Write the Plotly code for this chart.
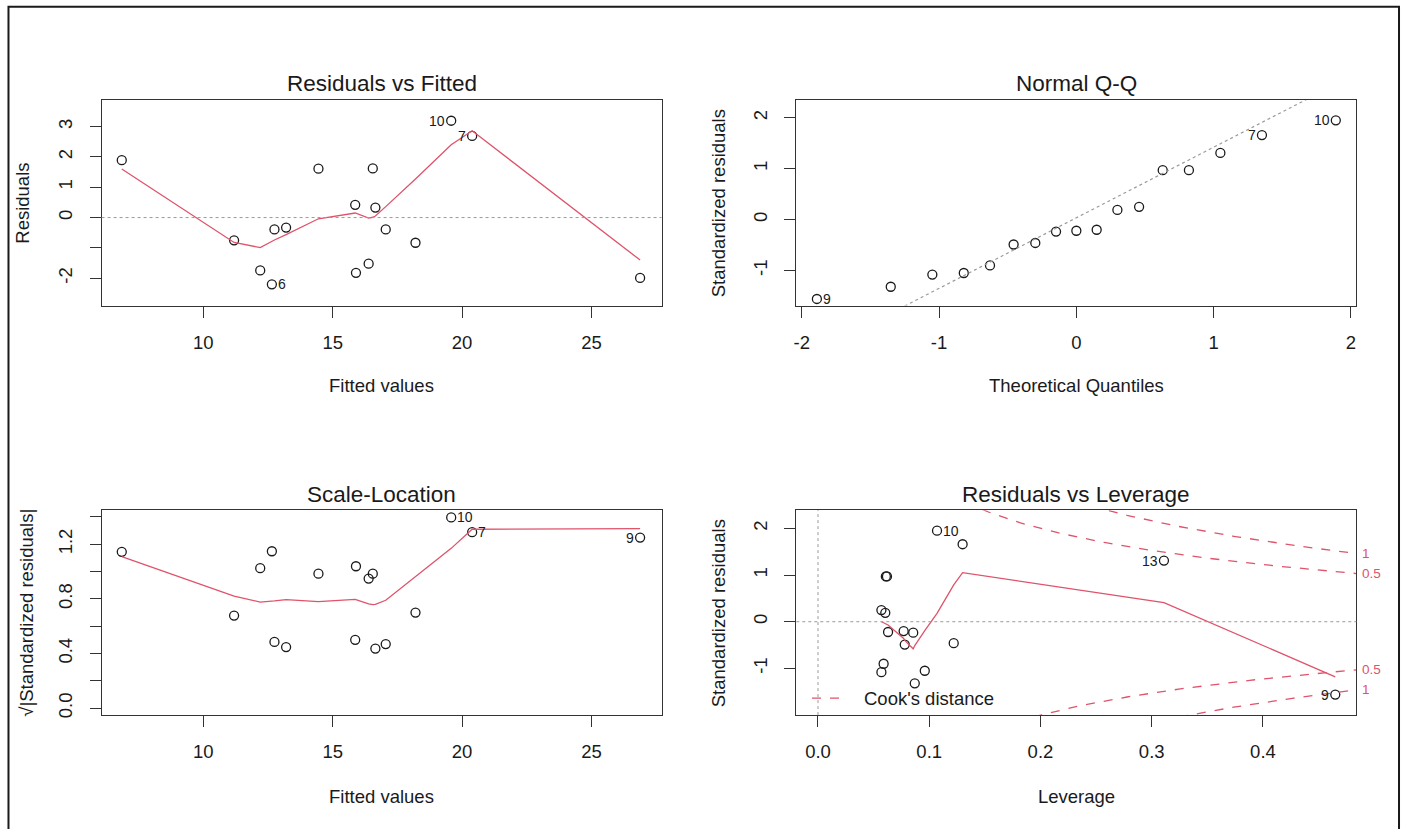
import numpy as np
import plotly.graph_objects as go

# ---------------- data: simple linear model, 17 observations ----------------
obs_id = list(range(1, 18))
fitted = [15.90, 11.19, 16.55, 12.20, 17.05, 12.65, 20.39, 15.87, 26.88,
          19.58, 16.39, 14.45, 6.85, 13.20, 18.20, 16.65, 12.75]
residuals = [-1.82, -0.75, 1.62, -1.74, -0.39, -2.20, 2.69, 0.42, -1.99,
             3.19, -1.52, 1.61, 1.89, -0.33, -0.83, 0.33, -0.39]
std_resid = [-1.08, -0.46, 0.97, -1.05, -0.22, -1.32, 1.66, 0.25, -1.56,
             1.95, -0.90, 0.97, 1.31, -0.20, -0.49, 0.19, -0.235]
leverage = [0.057, 0.122, 0.062, 0.096, 0.063, 0.087, 0.130, 0.057, 0.465,
            0.107, 0.059, 0.061, 0.311, 0.077, 0.078, 0.0605, 0.0856]
theor_quantiles = [-1.890, -1.352, -1.049, -0.820, -0.629, -0.457, -0.299, -0.148, 0.0,
                   0.148, 0.299, 0.457, 0.629, 0.820, 1.049, 1.352, 1.890]

# lowess smoothers (evaluated at the sorted x values)
smooth_fit_x = [6.85, 11.19, 12.20, 12.65, 12.75, 13.20, 14.45, 15.87, 15.90,
                16.39, 16.55, 16.65, 17.05, 18.20, 19.58, 20.39, 26.88]
smooth_resid_y = [1.60, -0.82, -0.99, -0.78, -0.74, -0.56, -0.04, 0.15, 0.14,
                  -0.02, 0.01, 0.05, 0.36, 1.27, 2.40, 2.86, -1.40]
smooth_scale_y = [1.11, 0.82, 0.777, 0.782, 0.785, 0.795, 0.78, 0.797, 0.795,
                  0.763, 0.758, 0.76, 0.79, 0.965, 1.17, 1.31, 1.315]
smooth_lev_x = [0.057, 0.057, 0.059, 0.0605, 0.061, 0.062, 0.063, 0.077, 0.078,
                0.0856, 0.087, 0.096, 0.107, 0.122, 0.130, 0.311, 0.465]
smooth_lev_y = [0.0, 0.0, -0.02, -0.03, -0.04, -0.05, -0.07, -0.36, -0.40,
                -0.58, -0.51, -0.19, 0.18, 0.79, 1.05, 0.41, -1.18]

cook_levels = [0.5, 1.0]
n_coef = 2

# ---------------- layout helpers ----------------
W, H = 1405, 829
FONT = "Liberation Sans, Arial, Helvetica, sans-serif"
INK = "#1a1a1a"
RED = "#DF536B"
GREY = "#9a9a9a"

def px_x(p):
    return p / W

def px_y(p):
    return 1 - p / H

col_left = [px_x(98.8), px_x(660.0)]
col_right = [px_x(795.0), px_x(1356.3)]
row_top = [px_y(306.7), px_y(100.3)]
row_bot = [px_y(717.7), px_y(512.0)]

fit = np.array(fitted)
res = np.array(residuals)
sres = np.array(std_resid)
lev = np.array(leverage)
ids = np.array(obs_id)

fig = go.Figure()

circle = dict(symbol="circle-open", size=9, color=INK, line=dict(width=1.3, color=INK))

def pts(x, y, ax):
    fig.add_trace(go.Scatter(x=x, y=y, mode="markers", marker=circle,
                             xaxis="x" + ax, yaxis="y" + ax, hoverinfo="x+y"))

def smooth(x, y, ax):
    fig.add_trace(go.Scatter(x=x, y=y, mode="lines", line=dict(color=RED, width=1.3),
                             xaxis="x" + ax, yaxis="y" + ax, hoverinfo="skip"))

annotations = []
shapes = []

def point_label(ax, x, y, text, side):
    annotations.append(dict(
        x=x, y=y, xref="x" + ax, yref="y" + ax, text=str(text), showarrow=False,
        xanchor="right" if side == "left" else "left", yanchor="middle",
        xshift=-4 if side == "left" else 4, yshift=0,
        font=dict(family=FONT, size=14, color=INK)))

# ---- 1: Residuals vs Fitted ----
pts(fit, res, "")
smooth(smooth_fit_x, smooth_resid_y, "")
for k, side in [(10, "left"), (7, "left"), (6, "right")]:
    i = obs_id.index(k)
    point_label("", fitted[i], residuals[i], k, side)
shapes.append(dict(type="line", xref="x domain", yref="y", x0=0, x1=1, y0=0, y1=0,
                   line=dict(color=GREY, width=1, dash="dot")))

# ---- 2: Normal Q-Q ----
order = np.argsort(sres)
qq_y = sres[order]
qq_x = np.array(theor_quantiles)
pts(qq_x, qq_y, "2")
y_q = np.quantile(sres, [0.25, 0.75])
x_q = np.array([-0.6744898, 0.6744898])
slope = (y_q[1] - y_q[0]) / (x_q[1] - x_q[0])
icpt = y_q[0] - slope * x_q[0]
line_x = np.array([-3.0, 3.0])
fig.add_trace(go.Scatter(x=line_x, y=icpt + slope * line_x, mode="lines",
                         line=dict(color=GREY, width=1.2, dash="dot"),
                         xaxis="x2", yaxis="y2", hoverinfo="skip"))
for k, side in [(9, "right"), (7, "left"), (10, "left")]:
    r = int(np.where(ids[order] == k)[0][0])
    point_label("2", qq_x[r], qq_y[r], k, side)

# ---- 3: Scale-Location ----
sq = np.sqrt(np.abs(sres))
pts(fit, sq, "3")
smooth(smooth_fit_x, smooth_scale_y, "3")
for k, side in [(10, "right"), (7, "right"), (9, "left")]:
    i = obs_id.index(k)
    point_label("3", fitted[i], sq[i], k, side)

# ---- 4: Residuals vs Leverage ----
x4_range = [-0.0195, 0.484]
pts(lev, sres, "4")
smooth(smooth_lev_x, smooth_lev_y, "4")
hh = np.linspace(min(lev.min(), lev.max() / 100), x4_range[1], 101)
for crit in cook_levels:
    cl = np.sqrt(crit * n_coef * (1 - hh) / hh)
    for sgn in (1, -1):
        fig.add_trace(go.Scatter(x=hh, y=sgn * cl, mode="lines",
                                 line=dict(color=RED, width=1.3, dash="dash"),
                                 xaxis="x4", yaxis="y4", hoverinfo="skip"))
    edge = np.sqrt(crit * n_coef * (1 - x4_range[1]) / x4_range[1])
    for sgn in (1, -1):
        annotations.append(dict(x=1, y=sgn * edge, xref="x4 domain", yref="y4",
                                text=f"{crit:g}", showarrow=False, xanchor="left",
                                yanchor="middle", xshift=4,
                                font=dict(family=FONT, size=13.5, color=RED)))
for k, side in [(10, "right"), (13, "left"), (9, "left")]:
    i = obs_id.index(k)
    point_label("4", leverage[i], std_resid[i], k, side)
shapes.append(dict(type="line", xref="x4 domain", yref="y4", x0=0, x1=1, y0=0, y1=0,
                   line=dict(color=GREY, width=1, dash="dot")))
shapes.append(dict(type="line", xref="x4", yref="y4 domain", x0=0, x1=0, y0=0, y1=1,
                   line=dict(color=GREY, width=1, dash="dot")))
# legend entry for Cook's distance
shapes.append(dict(type="line", xref="x4 domain", yref="y4 domain", x0=0.028, x1=0.080,
                   y0=0.083, y1=0.083, line=dict(color=RED, width=1.3, dash="dash")))
annotations.append(dict(x=0.118, y=0.083, xref="x4 domain", yref="y4 domain",
                        text="Cook's distance", showarrow=False, xanchor="left",
                        yanchor="middle",
                        font=dict(family=FONT, size=18.5, color=INK)))

# ---- titles and axis labels ----
def text_px(x, y, s, size, angle=0):
    annotations.append(dict(x=px_x(x), y=px_y(y), xref="paper", yref="paper", text=s,
                            showarrow=False, xanchor="center", yanchor="middle",
                            textangle=angle, font=dict(family=FONT, size=size, color=INK)))

text_px(379.4, 84, "Residuals vs Fitted", 22.5)
text_px(1075.6, 84, "Normal Q-Q", 22.5)
text_px(379.4, 496, "Scale-Location", 22.5)
text_px(1075.6, 496, "Residuals vs Leverage", 22.5)

text_px(379.4, 387, "Fitted values", 18.5)
text_px(1075.6, 387, "Theoretical Quantiles", 18.5)
text_px(379.4, 799, "Fitted values", 18.5)
text_px(1075.6, 799, "Leverage", 18.5)

text_px(20, 203.5, "Residuals", 18.5, -90)
text_px(717, 203.5, "Standardized residuals", 18.5, -90)
text_px(24, 615, "\u221a|Standardized residuals|", 18.5, -90)
text_px(717, 615, "Standardized residuals", 18.5, -90)

# outer frame
shapes.append(dict(type="rect", xref="paper", yref="paper", x0=px_x(5.5), x1=px_x(1399),
                   y0=-0.05, y1=px_y(6.7), line=dict(color=INK, width=2)))

def axis(domain, anchor, rng, tickvals, ticktext, vertical=False):
    a = dict(domain=domain, anchor=anchor, range=rng, tickvals=tickvals, ticktext=ticktext,
             showgrid=False, zeroline=False, showline=True, mirror=True,
             linecolor="#333333", linewidth=1, ticks="outside", ticklen=11,
             tickwidth=1, tickcolor="#333333",
             tickfont=dict(family=FONT, size=18.5, color=INK), fixedrange=True)
    if vertical:
        a["tickangle"] = -90
        a["ticklabelstandoff"] = 10
    else:
        a["ticklabelstandoff"] = 9
    return a

fit_ticks = [10, 15, 20, 25]
fit_range = [6.07, 27.71]

layout = dict(
    width=W, height=H, margin=dict(l=0, r=0, t=0, b=0),
    paper_bgcolor="white", plot_bgcolor="white", showlegend=False,
    xaxis=axis(col_left, "y", fit_range, fit_ticks, [str(v) for v in fit_ticks]),
    yaxis=axis(row_top, "x", [-2.9, 3.875], [-2, -1, 0, 1, 2, 3],
               ["-2", "", "0", "1", "2", "3"], True),
    xaxis2=axis(col_right, "y2", [-2.04, 2.04], [-2, -1, 0, 1, 2],
                ["-2", "-1", "0", "1", "2"]),
    yaxis2=axis(row_top, "x2", [-1.69, 2.35], [-1, 0, 1, 2], ["-1", "0", "1", "2"], True),
    xaxis3=axis(col_left, "y3", fit_range, fit_ticks, [str(v) for v in fit_ticks]),
    yaxis3=axis(row_bot, "x3", [-0.051, 1.45], [0, 0.2, 0.4, 0.6, 0.8, 1.0, 1.2, 1.4],
                ["0.0", "", "0.4", "", "0.8", "", "1.2", ""], True),
    xaxis4=axis(col_right, "y4", x4_range, [0, 0.1, 0.2, 0.3, 0.4],
                ["0.0", "0.1", "0.2", "0.3", "0.4"]),
    yaxis4=axis(row_bot, "x4", [-2.0, 2.39], [-1, 0, 1, 2], ["-1", "0", "1", "2"], True),
    annotations=annotations, shapes=shapes,
)
fig.update_layout(**layout)
fig.write_html("out.html")
